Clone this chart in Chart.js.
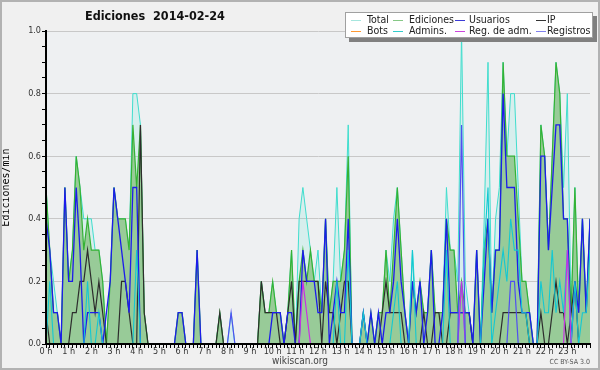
<!DOCTYPE html>
<html lang="es">
<head>
<meta charset="utf-8">
<title>Ediciones 2014-02-24</title>
<script src="https://cdn.jsdelivr.net/npm/chart.js@4.4.1/dist/chart.umd.min.js"></script>
<style>
    html, body { margin: 0; padding: 0; }
    body { width: 600px; height: 370px; overflow: hidden; background: #f0f0f0; font-family: 'DejaVu Sans Condensed', 'DejaVu Sans', sans-serif; }
    #wrap { position: relative; width: 600px; height: 370px; }
    #chart { position: absolute; left: 0; top: 0; }
    #frame { position: absolute; left: 0; top: 0; width: 600px; height: 370px; box-sizing: border-box; border: 2px solid #b2b2b2; pointer-events: none; }
    #title { position: absolute; left: 85px; top: 8px; font-size: 12.5px; font-weight: bold; color: #111; white-space: pre; }
    #legend { position: absolute; left: 345px; top: 12px; width: 248px; height: 26px; box-sizing: border-box; background: #fff; border: 1px solid #a0a0a0; box-shadow: 4px 4px 0 #808080; }
    .item { position: absolute; height: 11px; line-height: 11px; font-size: 10.5px; color: #222; white-space: nowrap; }
    .swatch { display: inline-block; width: 10px; height: 0; border-top: 1.5px solid; vertical-align: middle; margin-right: 5px; }
    #site { position: absolute; left: 0; width: 600px; top: 355px; text-align: center; font-size: 10px; color: #444; }
    #licence { position: absolute; right: 10px; top: 358px; font-size: 7px; color: #555; }
</style>
</head>
<body>
<div id="wrap">
    <canvas id="chart" width="600" height="370"></canvas>
    <div id="title">Ediciones  2014-02-24</div>
    <div id="legend"></div>
    <div id="site">wikiscan.org</div>
    <div id="licence">CC BY-SA 3.0</div>
    <div id="frame"></div>
</div>
<script>
// one value every 10 minutes, 0:00 -> 24:00 (edits per minute)
const hourLabels = ['0 h', '1 h', '2 h', '3 h', '4 h', '5 h', '6 h', '7 h', '8 h', '9 h', '10 h', '11 h',
    '12 h', '13 h', '14 h', '15 h', '16 h', '17 h', '18 h', '19 h', '20 h', '21 h', '22 h', '23 h'];

const totalPerMin = [
    0.5, 0.3, 0.2, 0.1, 0, 0.5,
    0.2, 0.3, 0.6, 0.5, 0.4, 0.4,
    0.4, 0.3, 0.3, 0.2, 0, 0.2,
    0.5, 0.4, 0.4, 0.4, 0.3, 0.8,
    0.8, 0.7, 0.1, 0, 0, 0,
    0, 0, 0, 0, 0, 0.1,
    0.1, 0, 0, 0, 0.3, 0,
    0, 0, 0, 0, 0.1, 0,
    0, 0.1, 0, 0, 0, 0,
    0, 0, 0, 0.2, 0.1, 0.1,
    0.2, 0.1, 0.1, 0, 0.1, 0.3,
    0, 0.4, 0.5, 0.4, 0.3, 0.2,
    0.3, 0.1, 0.4, 0.1, 0.2, 0.5,
    0.2, 0.3, 0.7, 0, 0, 0,
    0.1, 0, 0.1, 0, 0.1, 0.1,
    0.3, 0.2, 0.4, 0.5, 0.3, 0.1,
    0, 0.3, 0.1, 0.2, 0.1, 0.1,
    0.3, 0.1, 0.1, 0.1, 0.5, 0.3,
    0.3, 0.2, 1.0, 0.2, 0.1, 0,
    0.3, 0, 0.4, 0.9, 0.1, 0.4,
    0.5, 0.9, 0.6, 0.8, 0.8, 0.5,
    0.2, 0.2, 0.1, 0, 0, 0.7,
    0.6, 0.3, 0.6, 0.9, 0.8, 0.5,
    0.8, 0.1, 0.5, 0.1, 0.4, 0.1,
    0.4
];

const editsPerMin = [
    0.5, 0.3, 0.1, 0.1, 0, 0.5,
    0.2, 0.3, 0.6, 0.5, 0.3, 0.4,
    0.3, 0.3, 0.3, 0.2, 0, 0.2,
    0.5, 0.4, 0.4, 0.4, 0.3, 0.7,
    0.5, 0.7, 0.1, 0, 0, 0,
    0, 0, 0, 0, 0, 0.1,
    0.1, 0, 0, 0, 0.3, 0,
    0, 0, 0, 0, 0.1, 0,
    0, 0, 0, 0, 0, 0,
    0, 0, 0, 0.2, 0.1, 0.1,
    0.2, 0.1, 0.1, 0, 0.1, 0.3,
    0, 0.2, 0.3, 0.2, 0.3, 0.2,
    0.2, 0.1, 0.4, 0.1, 0.2, 0.2,
    0.2, 0.3, 0.6, 0, 0, 0,
    0.1, 0, 0.1, 0, 0.1, 0.1,
    0.3, 0.1, 0.3, 0.5, 0.3, 0.1,
    0, 0.2, 0.1, 0.2, 0.1, 0.1,
    0.3, 0.1, 0.1, 0.1, 0.4, 0.3,
    0.3, 0.1, 0.2, 0.1, 0.1, 0,
    0.3, 0, 0.3, 0.4, 0.1, 0.3,
    0.3, 0.9, 0.6, 0.6, 0.6, 0.4,
    0.2, 0.2, 0.1, 0, 0, 0.7,
    0.6, 0.3, 0.6, 0.9, 0.8, 0.4,
    0.4, 0.1, 0.5, 0.1, 0.4, 0.1,
    0.4
];

const usersPerMin = [
    0.4, 0.3, 0.1, 0.1, 0, 0.5,
    0.2, 0.2, 0.5, 0.3, 0, 0.1,
    0.1, 0.1, 0.1, 0, 0.1, 0.2,
    0.5, 0.4, 0.3, 0.2, 0.1, 0.5,
    0.5, 0, 0, 0, 0, 0,
    0, 0, 0, 0, 0, 0.1,
    0.1, 0, 0, 0, 0.3, 0,
    0, 0, 0, 0, 0, 0,
    0, 0, 0, 0, 0, 0,
    0, 0, 0, 0, 0, 0,
    0.1, 0.1, 0.1, 0, 0.1, 0.1,
    0, 0, 0.3, 0.2, 0.2, 0.2,
    0.1, 0.1, 0.4, 0, 0.1, 0.2,
    0.1, 0.1, 0.4, 0, 0, 0,
    0.1, 0, 0.1, 0, 0.1, 0,
    0.1, 0.1, 0.2, 0.4, 0.2, 0.1,
    0, 0.2, 0.1, 0.2, 0, 0.1,
    0.3, 0, 0, 0.1, 0.4, 0.1,
    0.1, 0.1, 0.1, 0.1, 0.1, 0,
    0.3, 0, 0.2, 0.4, 0.1, 0.3,
    0.3, 0.8, 0.5, 0.5, 0.5, 0.2,
    0.1, 0.1, 0.1, 0, 0, 0.6,
    0.6, 0.3, 0.5, 0.7, 0.7, 0.4,
    0.4, 0, 0.2, 0.1, 0.4, 0.1,
    0.4
];

const ipPerMin = [
    0.1, 0, 0, 0, 0, 0,
    0, 0.1, 0.1, 0.2, 0.2, 0.3,
    0.2, 0.1, 0.2, 0.1, 0, 0,
    0, 0, 0.2, 0.2, 0.1, 0,
    0, 0.7, 0.1, 0, 0, 0,
    0, 0, 0, 0, 0, 0,
    0, 0, 0, 0, 0, 0,
    0, 0, 0, 0, 0.1, 0,
    0, 0, 0, 0, 0, 0,
    0, 0, 0, 0.2, 0.1, 0.1,
    0.1, 0.1, 0, 0, 0.1, 0.2,
    0, 0.2, 0.2, 0.2, 0.2, 0.2,
    0.2, 0, 0.2, 0.1, 0.1, 0,
    0.1, 0.2, 0.2, 0, 0, 0,
    0, 0, 0, 0, 0, 0.1,
    0.2, 0.1, 0.1, 0.1, 0.1, 0,
    0, 0, 0, 0, 0.1, 0,
    0, 0.1, 0.1, 0, 0, 0.1,
    0.1, 0.1, 0.1, 0.1, 0.1, 0,
    0, 0, 0, 0, 0, 0,
    0, 0.1, 0.1, 0.1, 0.1, 0.1,
    0.1, 0.1, 0, 0, 0, 0.1,
    0, 0, 0.1, 0.2, 0.1, 0.1,
    0, 0.1, 0.2, 0, 0, 0,
    0
];

const botsPerMin = [
    0, 0, 0, 0, 0, 0,  0, 0, 0, 0, 0, 0,  0, 0, 0, 0, 0, 0,  0, 0, 0, 0, 0, 0,
    0, 0, 0, 0, 0, 0,  0, 0, 0, 0, 0, 0,  0, 0, 0, 0, 0, 0,  0, 0, 0, 0, 0, 0,
    0, 0, 0, 0, 0, 0,  0, 0, 0, 0, 0, 0,  0, 0, 0, 0, 0, 0,  0, 0, 0, 0, 0, 0,
    0, 0, 0, 0, 0, 0,  0, 0, 0, 0, 0, 0,  0, 0, 0, 0, 0, 0,  0, 0, 0, 0, 0, 0,
    0, 0, 0, 0, 0, 0,  0, 0, 0, 0, 0, 0,  0, 0, 0, 0, 0, 0,  0, 0, 0, 0, 0, 0,
    0, 0, 0, 0, 0, 0,  0, 0, 0, 0, 0, 0,  0, 0, 0, 0, 0, 0,  0, 0, 0, 0, 0, 0,
    0
];

const adminsPerMin = [
    0, 0.2, 0, 0, 0, 0,
    0, 0, 0, 0, 0, 0.2,
    0, 0, 0.1, 0, 0, 0,
    0, 0, 0, 0, 0, 0,
    0.3, 0, 0, 0, 0, 0,
    0, 0, 0, 0, 0, 0,
    0, 0, 0, 0, 0, 0,
    0, 0, 0, 0, 0, 0,
    0, 0, 0, 0, 0, 0,
    0, 0, 0, 0, 0, 0,
    0, 0, 0, 0, 0, 0,
    0, 0, 0, 0, 0, 0,
    0, 0, 0, 0, 0, 0.2,
    0, 0, 0.3, 0, 0, 0,
    0.1, 0, 0, 0, 0, 0,
    0, 0, 0.1, 0.2, 0, 0,
    0, 0.3, 0, 0, 0, 0,
    0, 0, 0, 0, 0.3, 0,
    0, 0, 0.2, 0, 0, 0,
    0, 0, 0.3, 0.5, 0, 0.1,
    0.2, 0.3, 0.2, 0.4, 0.3, 0.3,
    0.1, 0.1, 0, 0, 0, 0.2,
    0.1, 0.1, 0.3, 0.1, 0.2, 0.1,
    0.3, 0, 0.2, 0, 0.1, 0.1,
    0.3
];

const adminLogsPerMin = [
    0, 0, 0, 0, 0, 0,  0, 0, 0, 0, 0, 0,  0, 0, 0, 0, 0, 0,  0, 0, 0, 0, 0, 0,
    0, 0, 0, 0, 0, 0,  0, 0, 0, 0, 0, 0,  0, 0, 0, 0, 0, 0,  0, 0, 0, 0, 0, 0,
    0, 0, 0, 0, 0, 0,  0, 0, 0, 0, 0, 0,  0, 0, 0, 0, 0, 0,  0, 0, 0.2, 0.1, 0, 0,
    0, 0, 0, 0, 0, 0,  0, 0, 0, 0, 0, 0,  0, 0, 0, 0, 0, 0,  0, 0, 0, 0, 0, 0,
    0, 0, 0, 0, 0, 0,  0, 0, 0, 0, 0, 0,  0, 0, 0.2, 0, 0, 0,  0, 0, 0, 0, 0, 0,
    0, 0, 0, 0, 0, 0,  0, 0, 0, 0, 0, 0,  0, 0, 0, 0, 0, 0,  0.3, 0, 0, 0, 0, 0,
    0
];

const registrationsPerMin = [
    0, 0, 0, 0, 0, 0,  0, 0, 0, 0, 0, 0,  0, 0, 0, 0, 0, 0,  0, 0, 0, 0, 0, 0,
    0, 0, 0, 0, 0, 0,  0, 0, 0, 0, 0, 0,  0, 0, 0, 0, 0, 0,  0, 0, 0, 0, 0, 0,
    0, 0.1, 0, 0, 0, 0,  0, 0, 0, 0, 0, 0,  0, 0, 0, 0, 0, 0,  0, 0, 0, 0, 0, 0,
    0, 0, 0, 0, 0, 0,  0, 0, 0, 0, 0, 0,  0, 0, 0, 0, 0, 0,  0, 0, 0, 0, 0, 0,
    0, 0, 0, 0, 0, 0,  0, 0, 0, 0, 0, 0,  0, 0, 0.7, 0, 0, 0,  0, 0, 0, 0, 0, 0,
    0, 0, 0, 0.2, 0.2, 0,  0, 0, 0, 0, 0, 0,  0, 0, 0, 0, 0, 0,  0, 0, 0, 0, 0, 0,
    0
];

// legend layout follows the original: 4 columns x 2 rows
const series = [
    { name: 'Total', values: totalPerMin, line: 'rgb(64,222,206)', swatch: '#a6e6de', width: 1, fill: 'rgba(64,222,206,0.13)', order: 9, col: 0, row: 0 },
    { name: 'Ediciones', values: editsPerMin, line: 'rgb(52,178,52)', swatch: '#86c886', width: 1.2, fill: 'rgb(152,203,152)', order: 8, col: 1, row: 0 },
    { name: 'Usuarios', values: usersPerMin, line: 'rgb(28,28,235)', swatch: '#3c3cd6', width: 1.3, order: 4, col: 2, row: 0 },
    { name: 'IP', values: ipPerMin, line: 'rgb(45,45,45)', swatch: '#333', width: 1.2, order: 5, col: 3, row: 0 },
    { name: 'Bots', values: botsPerMin, line: 'rgb(255,150,50)', swatch: '#ff9933', width: 1.2, order: 7, col: 0, row: 1 },
    { name: 'Admins.', values: adminsPerMin, line: 'rgb(20,200,210)', swatch: '#33cccc', width: 1.1, order: 3, col: 1, row: 1 },
    { name: 'Reg. de adm.', values: adminLogsPerMin, line: 'rgb(200,50,225)', swatch: '#cc44dd', width: 1.2, order: 2, col: 2, row: 1 },
    { name: 'Registros', values: registrationsPerMin, line: 'rgb(80,80,240)', swatch: '#8080ee', width: 1.2, order: 1, col: 3, row: 1 }
];

const colLeft = [5, 47, 109, 190];
const colGap = [6, 6, 4, 1];

// HTML legend
const legendBox = document.getElementById('legend');
series.forEach(s => {
    const item = document.createElement('div');
    item.className = 'item';
    item.style.left = colLeft[s.col] + 'px';
    item.style.top = (s.row === 0 ? 1 : 12) + 'px';
    item.innerHTML = `<span class="swatch" style="border-top-color:${s.swatch};margin-right:${colGap[s.col]}px"></span>${s.name}`;
    legendBox.appendChild(item);
});

// plot background
const backgroundPlugin = {
    id: 'background',
    beforeDraw(chart) {
        const { ctx, chartArea } = chart;
        ctx.save();
        ctx.fillStyle = '#f0f0f0';
        ctx.fillRect(0, 0, chart.width, chart.height);
        ctx.fillStyle = '#eef0f2';
        ctx.fillRect(chartArea.left, chartArea.top, chartArea.right - chartArea.left, chartArea.bottom - chartArea.top);
        ctx.restore();
    }
};

const tickFont = { family: "'DejaVu Sans Condensed', 'DejaVu Sans', sans-serif", size: 9 };
const isMajor = v => Math.round(v * 100) % 20 === 0;

new Chart(document.getElementById('chart'), {
    type: 'line',
    data: {
        datasets: series.map(s => ({
            label: s.name,
            data: s.values.map((v, i) => ({ x: i, y: v })),
            borderColor: s.line,
            borderWidth: s.width,
            backgroundColor: s.fill || s.line,
            fill: s.fill ? 'origin' : false,
            order: s.order,
            pointRadius: 0,
            tension: 0
        }))
    },
    options: {
        responsive: false,
        animation: false,
        devicePixelRatio: 1,
        layout: { padding: { top: 31, right: 10, bottom: 0, left: 0 } },
        plugins: {
            legend: { display: false },
            tooltip: { enabled: false }
        },
        scales: {
            x: {
                type: 'linear',
                min: 0,
                max: 144,
                ticks: {
                    stepSize: 1,
                    autoSkip: false,
                    maxRotation: 0,
                    padding: -2,
                    color: '#333',
                    font: tickFont,
                    callback: v => {
                        const i = Math.round(v);
                        return (i % 6 === 0 && i < 144) ? hourLabels[i / 6] : '';
                    }
                },
                grid: { drawOnChartArea: false, tickLength: 4, tickColor: '#000', tickWidth: 1 },
                border: { display: true, color: '#000', width: 2, z: 1 },
                afterFit: scale => { scale.height = 26; }
            },
            y: {
                min: 0,
                max: 1,
                ticks: {
                    stepSize: 0.05,
                    autoSkip: false,
                    padding: 1,
                    color: '#333',
                    font: tickFont,
                    callback: v => isMajor(v) ? v.toFixed(1) : ''
                },
                grid: {
                    color: c => (c.tick && isMajor(c.tick.value)) ? '#c8c8c8' : 'rgba(0,0,0,0)',
                    tickColor: '#000',
                    tickLength: 4,
                    lineWidth: 1
                },
                border: { display: true, color: '#000', width: 2, z: 1 },
                title: {
                    display: true,
                    text: 'Ediciones/min',
                    color: '#000',
                    font: { family: "'DejaVu Sans Mono', monospace", size: 10 },
                    padding: { top: 0, bottom: 0 }
                },
                afterFit: scale => { scale.width = 46; }
            }
        }
    },
    plugins: [backgroundPlugin]
});
</script>
</body>
</html>
